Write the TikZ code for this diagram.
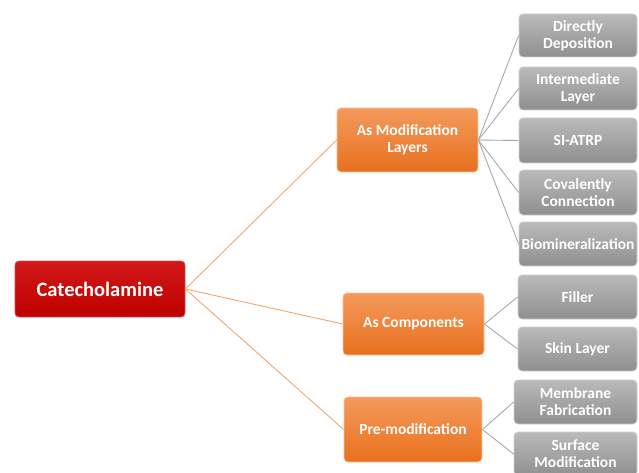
\documentclass[tikz,border=0pt]{standalone}
\usepackage{fontspec}
\setmainfont{Carlito}
\definecolor{rootred}{HTML}{C00000}
\definecolor{rootredtop}{HTML}{D01818}
\definecolor{orangetop}{HTML}{F49A5C}
\definecolor{orangebot}{HTML}{E8701E}
\definecolor{orangeedge}{HTML}{F9C49C}
\definecolor{graytop}{HTML}{BABABA}
\definecolor{graybot}{HTML}{8F8F8F}
\definecolor{grayedge}{HTML}{D0D0D0}
\definecolor{orangeline}{HTML}{F4A46C}
\definecolor{grayline}{HTML}{A8A8A8}
\tikzset{
  x=1pt,y=1pt,
  boxbase/.style={rounded corners=4pt,align=center,text=white,font=\bfseries\fontsize{15.5}{17}\selectfont,inner sep=0pt},
  rootbox/.style={boxbase,top color=rootredtop,bottom color=rootred,draw=rootred!70!white,line width=0.8pt,font=\bfseries\fontsize{20.5}{22}\selectfont},
  midbox/.style={boxbase,top color=orangetop,bottom color=orangebot,draw=orangeedge,line width=0.8pt},
  leafbox/.style={boxbase,top color=graytop,bottom color=graybot,draw=grayedge,line width=0.8pt},
  oline/.style={draw=orangeline,line width=0.9pt},
  gline/.style={draw=grayline,line width=0.9pt},
}
\begin{document}
\begin{tikzpicture}
\useasboundingbox (0,0) rectangle (639,-473);
\clip (0,0) rectangle (639,-473);
% root
\node[rootbox,minimum width=170,minimum height=56] (root) at (100,-289) {Catecholamine};
% mid
\node[midbox,minimum width=141,minimum height=64] (mod) at (407.5,-140) {As Modification\\Layers};
\node[midbox,minimum width=141,minimum height=62] (comp) at (413.5,-324) {As Components};
\node[midbox,minimum width=138,minimum height=65] (pre) at (413,-429.5) {Pre-modification};
% leaves
\node[leafbox,minimum width=118,minimum height=43] (dd) at (578,-35.5) {Directly\\Deposition};
\node[leafbox,minimum width=118,minimum height=43] (il) at (578,-88.5) {Intermediate\\Layer};
\node[leafbox,minimum width=118,minimum height=45] (si) at (578,-140.5) {SI-ATRP};
\node[leafbox,minimum width=118,minimum height=45] (cc) at (578,-192.5) {Covalently\\Connection};
\node[leafbox,minimum width=118,minimum height=44] (bm) at (578,-244) {Biomineralization};
\node[leafbox,minimum width=119,minimum height=44] (fi) at (577.5,-297) {Filler};
\node[leafbox,minimum width=119,minimum height=44] (sk) at (577.5,-349) {Skin Layer};
\node[leafbox,minimum width=123,minimum height=44] (mf) at (575.5,-402) {Membrane\\Fabrication};
\node[leafbox,minimum width=123,minimum height=44] (sm) at (575.5,-454) {Surface\\Modification};
% connectors
\draw[oline] (root.east) -- (mod.west);
\draw[oline] (root.east) -- (comp.west);
\draw[oline] (root.east) -- (pre.west);
\foreach \l in {dd,il,si,cc,bm} \draw[gline] (mod.east) -- (\l.west);
\foreach \l in {fi,sk} \draw[gline] (comp.east) -- (\l.west);
\foreach \l in {mf,sm} \draw[gline] (pre.east) -- (\l.west);
\end{tikzpicture}
\end{document}
